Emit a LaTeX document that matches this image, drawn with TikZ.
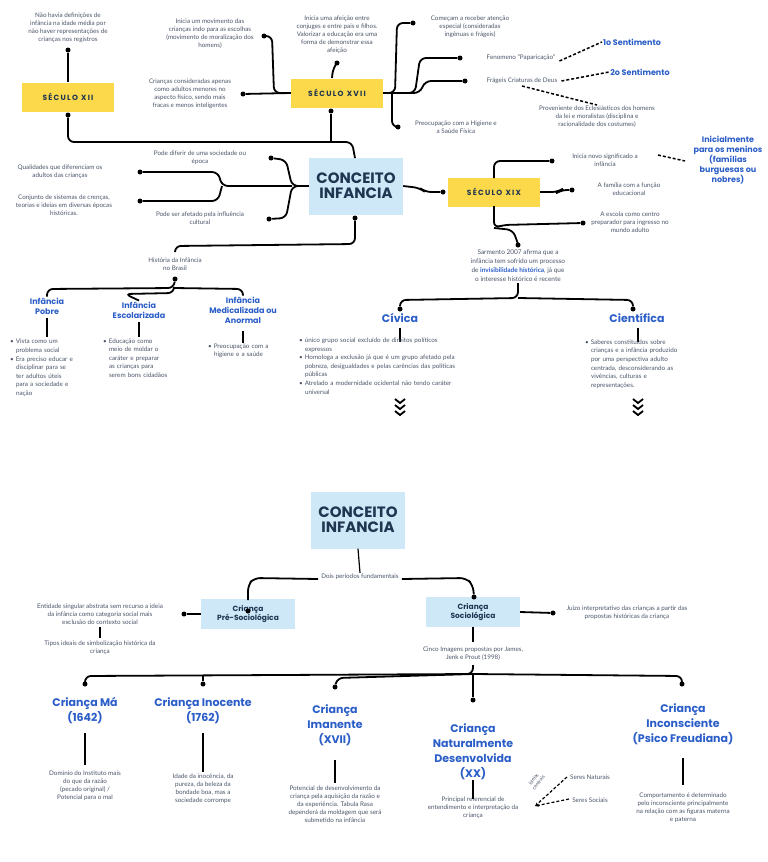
\documentclass[tikz,border=0pt]{standalone}
\usepackage{fontspec}
\setmainfont{Lato}
\newfontfamily\hd{Poppins}
\usetikzlibrary{arrows.meta}
\definecolor{ytel}{HTML}{FCD94A}
\definecolor{lblue}{HTML}{CFE8F8}
\definecolor{tgray}{HTML}{4A5568}
\definecolor{kblue}{HTML}{2A5DC7}
\definecolor{dnavy}{HTML}{1F3550}
\begin{document}
\begin{tikzpicture}[x=1pt,y=-1pt,
 t/.style={font=\fontsize{6.3}{8}\selectfont,text=tgray,align=center,inner sep=1pt},
 bl/.style={font=\fontsize{6.3}{8.6}\selectfont,text=tgray,align=left,inner sep=1pt},
 yb/.style={fill=ytel,minimum width=92pt,minimum height=29pt,font=\hd\bfseries\fontsize{7.5}{9}\selectfont,text=dnavy},
 cb/.style={fill=lblue,minimum width=94pt,minimum height=57pt,align=center,font=\hd\bfseries\fontsize{15}{15}\selectfont,text=dnavy},
 sb/.style={fill=lblue,minimum width=94pt,minimum height=30pt,align=center,font=\hd\bfseries\fontsize{7.5}{9.5}\selectfont,text=dnavy},
 kl/.style={font=\hd\bfseries\fontsize{8}{10}\selectfont,text=kblue,align=center,inner sep=1pt},
 kL/.style={font=\hd\bfseries\fontsize{11}{15}\selectfont,text=kblue,align=center,inner sep=1pt},
 d/.style={circle,fill=black,inner sep=0pt,minimum size=5pt},
 ln/.style={line width=1.8pt,rounded corners=6pt},
 th/.style={line width=1.2pt},
 ds/.style={line width=1.5pt,dash pattern=on 3pt off 2pt}]
\useasboundingbox (0,0) rectangle (768,862);
% ===== top =====
\node[yb] (s12) at (68,97) {S\,É\,C\,U\,L\,O\ \ X\,I\,I};
\node[yb] (s17) at (337,93) {S\,É\,C\,U\,L\,O\ \ X\,V\,I\,I};
\node[yb] (s19) at (494,192) {S\,É\,C\,U\,L\,O\ \ X\,I\,X};
\node[cb] (c1) at (356,186) {CONCEITO\\INFANCIA};
\node[t] (t12) at (68,28) {Não havia definições de\\infância na idade média por\\não haver representações de\\crianças nos registros};
\node[d] (d12a) at (68,50) {};
\draw[ln] (d12a) -- (68,64) -- (s12.north);
\node[d] (d12b) at (68,115) {};
\node[d] (d17b) at (331,111) {};
\draw[ln] (d12b) -- (68,142) -- (352,142) -- (355,158);
\draw[ln] (d17b) -- (331,142);
\node[t] (t17a) at (210,34) {Inicia um movimento das\\crianças indo para as escolhas\\(movimento de moralização dos\\homens)};
\node[d] (d17a) at (264,36) {};
\node[t] (t17b) at (190,94) {Crianças consideradas apenas\\como adultos menores no\\aspecto físico, sendo mais\\fracas e menos inteligentes};
\node[d] (d17bb) at (243,94) {};
\draw[ln] (d17a) -- (272,36) -- (274,93) -- (s17.west);
\draw[ln] (d17bb) -- (s17.west);
\node[t] (t17c) at (337,35) {Inicia uma afeição entre\\conjuges e entre pais e filhos.\\Valorizar a educação era uma\\forma de demonstrar essa\\afeição};
\node[d] (d17c) at (337,63) {};
\draw[ln] (d17c) -- (333,68) -- (332,78);
% right of s17
\node[d] (e1) at (413,23) {};
\node[t] (te1) at (470,27) {Começam a receber atenção\\especial (consideradas\\ingênuas e frágeis)};
\node[d] (e2) at (460,58) {};
\node[t] (te2) at (521,58) {Fenomeno "Paparicação"};
\node[d] (e3) at (465,81) {};
\node[t] (te3) at (522,81) {Frágeis Criaturas de Deus};
\node[d] (e4) at (398,127) {};
\node[t] (te4) at (456,127) {Preocupação com a Higiene e\\a Saúde Física};
\draw[ln] (s17.east) -- (395,93) -- (397,23) -- (e1);
\draw[ln] (s17.east) -- (415,93) -- (420,58) -- (e2);
\draw[ln] (s17.east) -- (420,93) -- (425,81) -- (e3);
\draw[ln] (392,93) -- (392,127) -- (e4);
\node[kl] (k1) at (632,42) {1o Sentimento};
\node[kl] (k2) at (640,72) {2o Sentimento};
\node[t] (tp) at (597,117) {Proveniente dos Eclesiásticos dos homens\\da lei e moralistas (disciplina e\\racionalidade dos costumes)};
\draw[ds] (te2.east) ++(3,3) -- (k1.west);
\draw[ds] (te3.east) ++(3,0) -- (k2.west);
\draw[ds] (522,86) -- (tp.north);
% left of concept
\node[t] (l1) at (200,158) {Pode diferir de uma sociedade ou\\época};
\node[d] (dl1) at (271,158) {};
\node[t] (l2) at (200,218) {Pode ser afetado pela influência\\cultural};
\node[d] (dl2) at (269,219) {};
\node[t] (l3) at (60,172) {Qualidades que diferenciam os\\adultos das crianças};
\node[d] (dl3) at (140,172) {};
\node[t] (l4) at (64,205) {Conjunto de sistemas de crenças,\\teorias e ideias em diversas épocas\\históricas.};
\node[d] (dl4) at (140,201) {};
\draw[ln] (c1.west) -- (292,186) -- (286,160) -- (dl1);
\draw[ln] (c1.west) -- (292,186) -- (286,218) -- (dl2);
\draw[ln] (292,186) -- (222,186) -- (218,172) -- (dl3);
\draw[ln] (222,186) -- (218,201) -- (dl4);
% s19
\node[d] (ds19) at (443,192) {};
\draw[ln] (c1.east) -- (420,188) -- (425,192) -- (ds19);
\node[d] (f1) at (552,161) {};
\node[t] (tf1) at (605,160) {Inicia novo significado a\\infância};
\node[d] (f2) at (572,190) {};
\node[t] (tf2) at (629,189) {A família com a função\\educacional};
\node[d] (f3) at (583,223) {};
\node[t] (tf3) at (630,222) {A escola como centro\\preparador para ingresso no\\mundo adulto};
\draw[ln] (494,178) -- (494,161) -- (f1);
\draw[ln] (s19.east) -- (558,192) -- (561,190) -- (f2);
\draw[ln] (494,206) -- (494,228) -- (503,225) -- (f3);
\draw[ln] (494,228) -- (513,230) -- (518,244);
\node[kl] (k3) at (728,160) {Inicialmente\\para os meninos\\(famílias\\burguesas ou\\nobres)};
\draw[ds] (658,155) -- (685,161);
% Sarmento
\node[d] (dsa) at (518,245) {};
\node[t,font=\fontsize{6.5}{9}\selectfont] (tsa) at (518,266) {Sarmento 2007 afirma que a\\infância tem sofrido um processo\\de \textcolor{kblue}{\bfseries invisibilidade histórica}, já que\\o interesse histórico é recente};
\node[d] (dci) at (400,309) {};
\node[d] (dce) at (633,309) {};
\node[kL] (ci) at (400,318) {Cívica};
\node[kL] (ce) at (637,318) {Científica};
\draw[ln] (tsa.south) -- (518,298) -- (400,300) -- (dci);
\draw[ln] (518,298) -- (633,300) -- (dce);
\draw[th] (400,328) -- (400,342);
\draw[th] (638,328) -- (638,342);
\node[bl,text width=180pt] (bci) at (389,366) {\textbullet\ único grupo social excluído de direitos políticos\\\hspace*{6pt}expressos\\\textbullet\ Homologa a exclusão já que é um grupo afetado pela\\\hspace*{6pt}pobreza, desigualdades e pelas carências das políticas\\\hspace*{6pt}públicas\\\textbullet\ Atrelado a modernidade ocidental não tendo caráter\\\hspace*{6pt}universal};
\node[bl,text width=130pt] (bce) at (650,364) {\textbullet\ Saberes constituídos sobre\\\hspace*{6pt}crianças e a infância produzido\\\hspace*{6pt}por uma perspectiva adulto\\\hspace*{6pt}centrada, desconsiderando as\\\hspace*{6pt}vivências, culturas e\\\hspace*{6pt}representações.};
\foreach \cx in {400,638}{\foreach \cy in {401,407,413}{\draw[line width=1.8pt] (\cx-5,\cy-2) -- (\cx,\cy+2) -- (\cx+5,\cy-2);}}
% História no Brasil
\node[d] (dc1) at (355,218) {};
\draw[ln] (dc1) -- (355,244) -- (175,246) -- (175,252);
\node[t] (th) at (175,264) {História da Infância\\no Brasil};
\node[d] (dh) at (175,279) {};
\node[kl] (ip) at (47,306) {Infância\\Pobre};
\node[kl] (ie) at (139,310) {Infância\\Escolarizada};
\node[kl] (im) at (243,310) {Infância\\Medicalizada ou\\Anormal};
\draw[ln] (dh) -- (174,288) -- (47,289) -- (ip.north);
\draw[ln] (174,288) -- (174,293) -- (125,294) -- (ie.north);
\draw[ln] (174,288) -- (243,289) -- (im.north);
\draw[th] (47,318) -- (47,337);
\draw[th] (139,322) -- (139,337);
\draw[th] (243,331) -- (243,343);
\node[bl,text width=80pt] (bp) at (50,368) {\textbullet\ Vista como um\\\hspace*{6pt}problema social\\\textbullet\ Era preciso educar e\\\hspace*{6pt}disciplinar para se\\\hspace*{6pt}ter adultos úteis\\\hspace*{6pt}para a sociedade e\\\hspace*{6pt}nação};
\node[bl,text width=80pt] (be) at (143,358) {\textbullet\ Educação como\\\hspace*{6pt}meio de moldar o\\\hspace*{6pt}caráter e preparar\\\hspace*{6pt}as crianças para\\\hspace*{6pt}serem bons cidadãos};
\node[bl,text width=80pt] (bm) at (248,351) {\textbullet\ Preocupação com a\\\hspace*{6pt}higiene e a saúde};
% ===== bottom =====
\node[cb] (c2) at (358,520) {CONCEITO\\INFANCIA};
\node[t] (dp) at (360,577) {Dois períodos fundamentais};
\draw[th] (c2.south) -- (dp.north);
\node[sb] (pre) at (248,614) {Criança\\Pré-Sociológica};
\node[sb] (soc) at (473,612) {Criança\\Sociológica};
\node[d] (dpre) at (248,611) {};
\node[d] (dsoc) at (474,597) {};
\draw[ln] (dp.west) ++(-2,2) -- (254,578) -- (248,585) -- (248,600);
\draw[ln] (dp.east) ++(2,2) -- (466,578) -- (473,585) -- (dsoc);
\node[t] (en) at (100,614) {Entidade singular abstrata sem recurso a ideia\\da infância como categoria social mais\\exclusão do contexto social};
\node[d] (den) at (184,614) {};
\draw[ln] (pre.west) -- (den);
\node[t] (ti) at (100,648) {Tipos ideais de simbolização histórica da\\criança};
\draw[th] (100,627) -- (100,638);
\node[d] (dju) at (553,613) {};
\draw[ln] (soc.east) -- (dju);
\node[t] (ju) at (627,613) {Juízo interpretativo das crianças a partir das\\propostas históricas da criança};
\node[t] (ci5) at (473,654) {Cinco Imagens propostas por James,\\Jenk e Prout (1998)};
\draw[th] (soc.south) -- (473,642);
\node[d] (g1) at (85,684) {};
\node[d] (g2) at (203,684) {};
\node[d] (g3) at (335,687) {};
\node[d] (g4) at (473,700) {};
\node[d] (g5) at (682,684) {};
\draw[ln] (473,665) -- (473,674) -- (85,676) -- (g1);
\draw[ln] (203,676) -- (g2);
\draw[ln] (473,674) -- (337,678) -- (g3);
\draw[ln] (473,674) -- (g4);
\draw[ln] (473,674) -- (682,676) -- (g5);
\node[kL] (h1) at (85,711) {Criança Má\\(1642)};
\node[kL] (h2) at (203,711) {Criança Inocente\\(1762)};
\node[kL] (h3) at (335,725) {Criança\\Imanente\\(XVII)};
\node[kL] (h4) at (473,752) {Criança\\Naturalmente\\Desenvolvida\\(XX)};
\node[kL] (h5) at (683,724) {Criança\\Inconsciente\\(Psico Freudiana)};
\node[t] (x1) at (85,786) {Dominio do Instituto mais\\do que da razão\\(pecado original) /\\Potencial para o mal};
\node[t] (x2) at (203,789) {Idade da inocência, da\\pureza, da beleza da\\bondade boa, mas a\\sociedade corrompe};
\node[t] (x3) at (335,804) {Potencial de desenvolvimento da\\criança pela aquisição da razão e\\da experiência. Tabula Rasa\\dependerá da moldagem que será\\submetido na infância};
\node[t] (x4) at (473,808) {Principal referencial de\\entendimento e interpretação da\\criança};
\node[t] (x5) at (683,808) {Comportamento é determinado\\pelo inconsciente principalmente\\na relação com as figuras materna\\e paterna};
\draw[th] (85,733) -- (85,765);
\draw[th] (203,733) -- (203,772);
\draw[th] (335,760) -- (335,783);
\draw[th] (473,799) -- (473,780);
\draw[th] (683,758) -- (683,785);
\node[t] (sn) at (590,777) {Seres Naturais};
\node[t] (ss) at (590,800) {Seres Sociais};
\node[t,rotate=52,font=\fontsize{5}{6}\selectfont] (ic) at (536,781) {Ideias\\centrais};
\draw[ds,line width=1.2pt,-{Stealth[length=4pt]}] (sn.west) ++(-2,0) -- (535,806);
\draw[ds,line width=1.2pt,-{Stealth[length=4pt]}] (ss.west) ++(-2,-1) -- (535,806);
\end{tikzpicture}
\end{document}
